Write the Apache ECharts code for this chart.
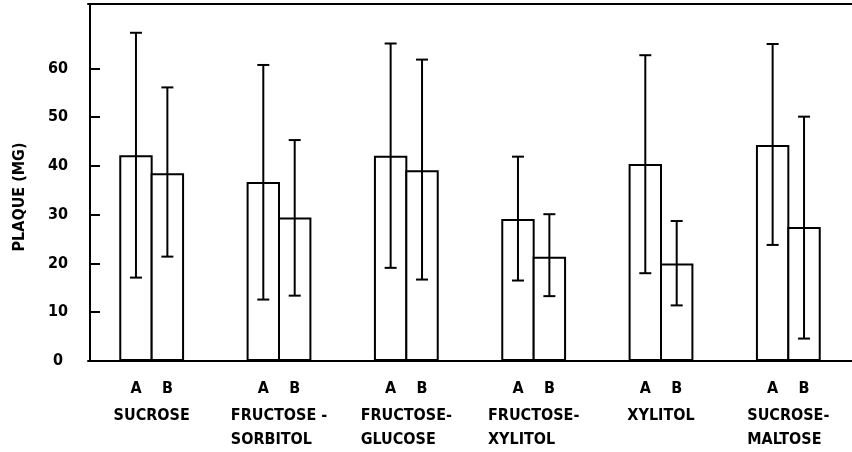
<!DOCTYPE html>
<html>
<head>
<meta charset="utf-8">
<script src="https://cdn.jsdelivr.net/npm/echarts@6/dist/echarts.min.js"></script>
<style>
html,body{margin:0;padding:0;background:#fff;}
#c{width:852px;height:452px;}
</style>
</head>
<body>
<div id="c"></div>
<script>
const categories = ['SUCROSE', 'FRUCTOSE -\nSORBITOL', 'FRUCTOSE-\nGLUCOSE', 'FRUCTOSE-\nXYLITOL', 'XYLITOL', 'SUCROSE-\nMALTOSE'];
const meanA = [42.2, 36.7, 42.1, 29.1, 40.4, 44.3];
const highA = [67.3, 60.7, 65.1, 41.9, 62.7, 65.0];
const lowA  = [17.1, 12.6, 19.1, 16.5, 18.0, 23.8];
const meanB = [38.5, 29.4, 39.1, 21.4, 20.0, 27.5];
const highB = [56.1, 45.3, 61.8, 30.1, 28.7, 50.1];
const lowB  = [21.4, 13.4, 16.7, 13.3, 11.4, 4.6];
const yTicks = [0, 10, 20, 30, 40, 50, 60];
const yTitle = 'PLAQUE (MG)';

const FONT = '"DejaVu Sans Condensed", "DejaVu Sans", sans-serif';
const BAR_W = 33.4;
const OVERLAP = 2;

const chart = echarts.init(document.getElementById('c'), null, {renderer: 'canvas'});

function errData(lo, hi) {
  return categories.map((c, i) => [i, lo[i], hi[i]]);
}
function errRender(shift) {
  return function (params, api) {
    const i = api.value(0);
    const p1 = api.coord([i, api.value(1)]);
    const p2 = api.coord([i, api.value(2)]);
    const x = p1[0] + shift;
    const cap = 6;
    const st = {stroke: '#000', lineWidth: 2, fill: null};
    return {
      type: 'group',
      children: [
        {type: 'line', shape: {x1: x, y1: p1[1], x2: x, y2: p2[1]}, style: st},
        {type: 'line', shape: {x1: x - cap, y1: p1[1], x2: x + cap, y2: p1[1]}, style: st},
        {type: 'line', shape: {x1: x - cap, y1: p2[1], x2: x + cap, y2: p2[1]}, style: st}
      ]
    };
  };
}

const barLabel = {
  show: true,
  position: 'bottom',
  distance: 20,
  formatter: (p) => p.seriesName,
  color: '#000',
  fontFamily: FONT,
  fontWeight: 'bold',
  fontSize: 16
};

chart.setOption({
  animation: false,
  backgroundColor: '#fff',
  grid: {left: 88, right: -7, top: 4, bottom: 91, containLabel: false},
  xAxis: [
    {
      type: 'category',
      data: categories,
      position: 'bottom',
      axisLine: {show: true, lineStyle: {color: '#000', width: 2}},
      axisTick: {show: false},
      axisLabel: {
        margin: 43,
        interval: 0,
        formatter: (v) => v.split('\n').map(l => '{n|' + l + '}').join('\n'),
        rich: {
          n: {align: 'left', lineHeight: 24, fontSize: 16, fontWeight: 'bold', fontFamily: FONT, color: '#000'}
        }
      },
      splitLine: {show: false}
    },
    {
      type: 'category',
      data: categories,
      position: 'top',
      axisLine: {show: true, lineStyle: {color: '#000', width: 2}},
      axisTick: {show: false},
      axisLabel: {show: false},
      splitLine: {show: false}
    }
  ],
  yAxis: {
    type: 'value',
    min: 0,
    max: 73.2,
    interval: 10,
    offset: -2,
    axisLine: {show: true, lineStyle: {color: '#000', width: 2}},
    axisTick: {show: true, inside: true, length: 10, lineStyle: {color: '#000', width: 2}, customValues: yTicks},
    axisLabel: {
      show: true,
      margin: 32,
      align: 'center',
      customValues: yTicks,
      color: '#000',
      fontFamily: FONT,
      fontWeight: 'bold',
      fontSize: 16
    },
    splitLine: {show: false}
  },
  graphic: [
    {
      type: 'text',
      x: 20,
      y: 197,
      rotation: Math.PI / 2,
      style: {
        text: yTitle,
        align: 'center',
        verticalAlign: 'middle',
        fill: '#000',
        font: 'bold 16px ' + FONT
      }
    }
  ],
  series: [
    {
      name: 'A',
      type: 'bar',
      data: meanA,
      barWidth: BAR_W,
      barGap: (-OVERLAP / BAR_W * 100) + '%',
      itemStyle: {color: '#fff', borderColor: '#000', borderWidth: 2},
      label: barLabel,
      z: 2
    },
    {
      name: 'B',
      type: 'bar',
      data: meanB,
      barWidth: BAR_W,
      barGap: (-OVERLAP / BAR_W * 100) + '%',
      itemStyle: {color: '#fff', borderColor: '#000', borderWidth: 2},
      label: barLabel,
      z: 2
    },
    {
      name: 'errA',
      type: 'custom',
      data: errData(lowA, highA),
      renderItem: errRender(-(BAR_W - OVERLAP) / 2),
      encode: {x: 0, y: [1, 2]},
      z: 5
    },
    {
      name: 'errB',
      type: 'custom',
      data: errData(lowB, highB),
      renderItem: errRender((BAR_W - OVERLAP) / 2),
      encode: {x: 0, y: [1, 2]},
      z: 5
    }
  ]
});
</script>
</body>
</html>
